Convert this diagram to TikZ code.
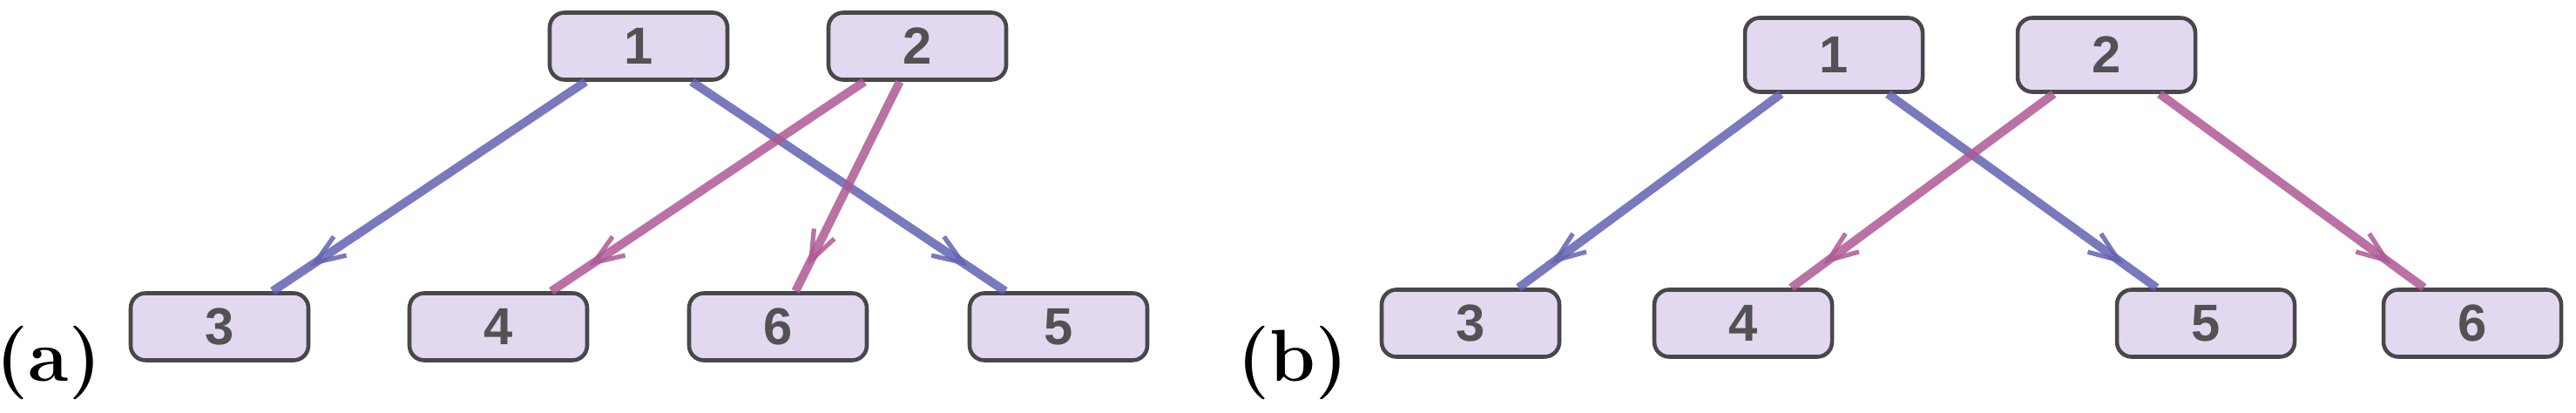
\documentclass[tikz,border=0pt]{standalone}
\usepackage{fontspec}
\newfontfamily\numfont{Liberation Sans}
\usetikzlibrary{arrows.meta,decorations.markings}
\definecolor{boxfill}{HTML}{E2D9F0}
\definecolor{boxline}{HTML}{48484B}
\definecolor{numgray}{HTML}{525252}
\definecolor{linkblue}{HTML}{6262B2}
\definecolor{linkpink}{HTML}{AE5893}
\tikzset{
	vbox/.style={draw=boxline, fill=boxfill, line width=1.3pt, rounded corners=0.17cm,
		minimum width=2.04cm, minimum height=0.77cm, inner sep=0pt, text=numgray,
		font=\numfont\bfseries\fontsize{17}{20}\selectfont},
	link/.style={line width=2.8pt, draw opacity=0.85, postaction={decorate},
		decoration={markings, mark=at position 0.88 with
			{\arrow[line width=1.5pt]{Straight Barb[length=0.34cm,width=0.26cm]}}}},
	blueedge/.style={link, draw=linkblue},
	pinkedge/.style={link, draw=linkpink},
	sublabel/.style={inner sep=0pt, font=\bfseries\fontsize{24}{28}\selectfont}
}
\begin{document}
\begin{tikzpicture}
		\useasboundingbox (0,0) rectangle (29.57,4.74);
		\node[vbox] (a1) at (7.33,4.21) {1};
		\node[vbox] (a2) at (10.53,4.21) {2};
		\node[vbox] (a3) at (2.52,0.99) {3};
		\node[vbox] (a4) at (5.72,0.99) {4};
		\node[vbox] (a6) at (8.93,0.99) {6};
		\node[vbox] (a5) at (12.15,0.99) {5};
		\node[sublabel] (la) at (0.56,0.58) {(a)};
		\path
		(a1) edge[blueedge] (a3)
		(a1) edge[blueedge] (a5)
		(a2) edge[pinkedge] (a4)
		(a2) edge[pinkedge] (a6);
		\node[vbox, minimum height=0.85cm] (b1) at (21.05,4.11) {1};
		\node[vbox, minimum height=0.85cm] (b2) at (24.18,4.11) {2};
		\node[vbox] (b3) at (16.88,1.03) {3};
		\node[vbox] (b4) at (20.01,1.03) {4};
		\node[vbox] (b5) at (25.32,1.03) {5};
		\node[vbox] (b6) at (28.38,1.03) {6};
		\node[sublabel] (lb) at (14.84,0.58) {(b)};
		\path
		(b1) edge[blueedge] (b3)
		(b1) edge[blueedge] (b5)
		(b2) edge[pinkedge] (b4)
		(b2) edge[pinkedge] (b6);
	\end{tikzpicture}
\end{document}
